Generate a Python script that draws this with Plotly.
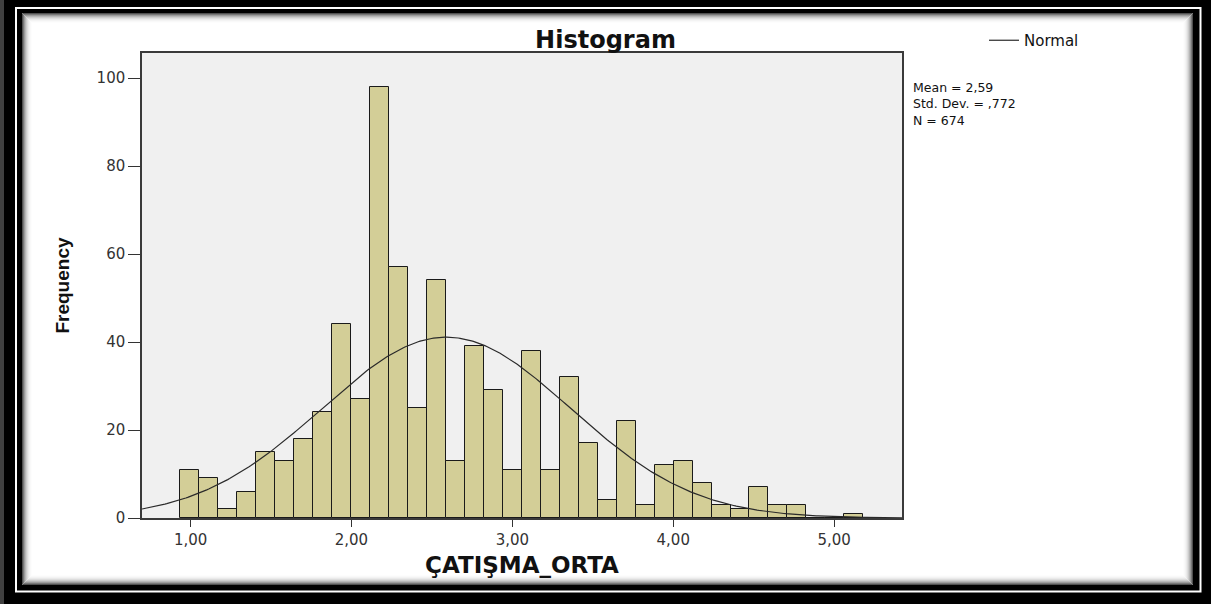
import numpy as np
import plotly.graph_objects as go

# ---------------- data ----------------
counts = [11, 9, 2, 6, 15, 13, 18, 24, 44, 27, 98, 57, 25, 54, 13, 39, 29, 11,
          38, 11, 32, 17, 4, 22, 3, 12, 13, 8, 3, 2, 7, 3, 3, 0, 0, 1]
bin_start = 0.934
bin_width = 0.118
mean = 2.59
std_dev = 0.772
n_obs = 674
x_tick_vals = [1, 2, 3, 4, 5]
x_tick_text = ["1,00", "2,00", "3,00", "4,00", "5,00"]
y_tick_vals = [0, 20, 40, 60, 80, 100]
stats_lines = ["Mean = 2,59", "Std. Dev. = ,772", "N = 674"]
x_range = [0.698, 5.422]
y_range = [0, 105.7]

# ---------------- layout geometry (pixels) ----------------
W, H = 1211, 604
PL, PR, PT, PB = 142, 902, 53, 518


def px(x):
    return (x - PL) / (PR - PL)


def py(y):
    return (PB - y) / (PB - PT)


centers = [bin_start + bin_width * (i + 0.5) for i in range(len(counts))]

xc = np.linspace(x_range[0], x_range[1], 400)
yc = n_obs * bin_width / (std_dev * np.sqrt(2 * np.pi)) * np.exp(-0.5 * ((xc - mean) / std_dev) ** 2)

fig = go.Figure()
fig.add_trace(go.Bar(
    x=centers, y=counts, width=bin_width,
    marker=dict(color="#D3CE97", line=dict(color="#1a1a1a", width=1)),
    showlegend=False, hoverinfo="x+y",
))
fig.add_trace(go.Scatter(
    x=xc, y=yc, mode="lines", name="Normal",
    line=dict(color="#2a2a2a", width=1.2),
    showlegend=True,
))

shapes = []
# left grey strip of the outer frame
shapes.append(dict(type="rect", xref="paper", yref="paper", layer="below",
                   x0=px(0), x1=px(4), y0=py(0), y1=py(H),
                   fillcolor="#404040", line=dict(width=0)))
# white frame line
shapes.append(dict(type="rect", xref="paper", yref="paper", layer="below",
                   x0=px(16), x1=px(1200.5), y0=py(8), y1=py(591.5),
                   line=dict(color="white", width=2)))
# inner white area
shapes.append(dict(type="rect", xref="paper", yref="paper", layer="below",
                   x0=px(22), x1=px(1193), y0=py(13), y1=py(585),
                   fillcolor="white", line=dict(width=0)))
# inner shadow gradient
greys = [80, 120, 155, 182, 204, 221, 234, 243, 249, 253]
for i, g in enumerate(greys):
    d = i + 0.5
    shapes.append(dict(type="rect", xref="paper", yref="paper", layer="below",
                       x0=px(22 + d), x1=px(1193 - d), y0=py(13 + d), y1=py(585 - d),
                       line=dict(color=f"rgb({g},{g},{g})", width=1)))
# plot area background
shapes.append(dict(type="rect", xref="paper", yref="paper", layer="below",
                   x0=0, x1=1, y0=0, y1=1,
                   fillcolor="#F0F0F0", line=dict(width=0)))

annotations = [dict(
    xref="paper", yref="paper", x=px(911), y=py(78),
    xanchor="left", yanchor="top", align="left", showarrow=False,
    text="<br>".join(stats_lines),
    font=dict(family="DejaVu Sans", size=12.5, color="#111111"),
)]

fig.update_layout(
    width=W, height=H,
    margin=dict(l=PL, r=W - PR, t=PT, b=H - PB, pad=0),
    paper_bgcolor="black",
    plot_bgcolor="#F0F0F0",
    bargap=0,
    title=dict(text="Histogram", x=0.5, xref="container", xanchor="center",
               y=1 - 40 / H, yref="container", yanchor="middle",
               font=dict(family="DejaVu Sans", size=24, color="#111111", weight="bold")),
    showlegend=True,
    legend=dict(x=px(984), y=py(24), xanchor="left", yanchor="top",
                bgcolor="rgba(0,0,0,0)", borderwidth=0,
                font=dict(family="DejaVu Sans", size=15, color="#111111"),
                itemwidth=30),
    shapes=shapes,
    annotations=annotations,
)

fig.update_xaxes(
    range=x_range, tickmode="array", tickvals=x_tick_vals, ticktext=x_tick_text,
    ticks="outside", ticklen=7, tickwidth=1.3, tickcolor="#333333",
    showline=True, linecolor="#3a3a3a", linewidth=1.5, mirror=True,
    showgrid=False, zeroline=False,
    tickfont=dict(family="DejaVu Sans", size=15, color="#333333"),
    title=dict(text="ÇATIŞMA_ORTA", standoff=9,
               font=dict(family="DejaVu Sans", size=23, color="#111111", weight="bold")),
)
fig.update_yaxes(
    range=y_range, tickmode="array", tickvals=y_tick_vals,
    ticks="outside", ticklen=12, tickwidth=1.3, tickcolor="#333333",
    showline=True, linecolor="#3a3a3a", linewidth=1.5, mirror=True,
    showgrid=False, zeroline=False,
    tickfont=dict(family="DejaVu Sans", size=15, color="#333333"),
    title=dict(text="Frequency", standoff=22,
               font=dict(family="Liberation Sans", size=19, color="#111111", weight="bold")),
)

fig.write_html("out.html", config={"displayModeBar": False},
               post_script="document.body.style.margin='0px';")
